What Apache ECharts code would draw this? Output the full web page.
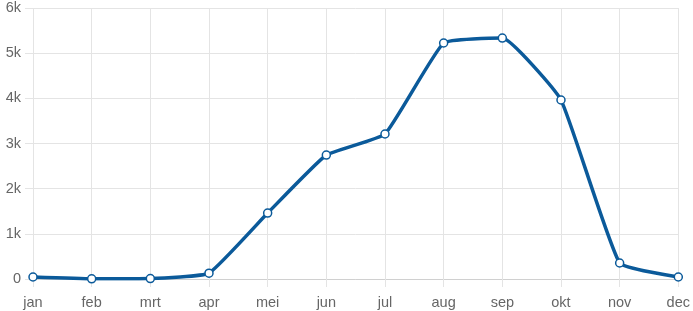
<!DOCTYPE html>
<html>
<head>
<meta charset="utf-8">
<script src="https://cdn.jsdelivr.net/npm/echarts@6/dist/echarts.min.js"></script>
<style>html,body{margin:0;padding:0;background:#fff}#c{width:693px;height:311px}</style>
</head>
<body>
<div id="c"></div>
<script>
const categories = ['jan','feb','mrt','apr','mei','jun','jul','aug','sep','okt','nov','dec'];
const values = [44, 5, 10, 130, 1460, 2745, 3210, 5225, 5335, 3963, 354, 44];
const yMin = 0, yMax = 6000, yStep = 1000;

const chart = echarts.init(document.getElementById('c'), null, {renderer: 'canvas'});
const gridColor = '#e4e4e4';
const font = 'Liberation Sans, Arial, sans-serif';
chart.setOption({
  animation: false,
  grid: {left: 33, right: 13, top: 8, bottom: 32, containLabel: false},
  xAxis: {
    type: 'category', data: categories, boundaryGap: false,
    axisLine: {show: true, lineStyle: {color: '#d0d0d0', width: 1}},
    axisTick: {show: true, alignWithLabel: true, length: 8, lineStyle: {color: gridColor}},
    splitLine: {show: true, lineStyle: {color: gridColor, width: 1}},
    axisLabel: {color: '#666', fontSize: 14.5, fontFamily: font, margin: 16, interval: 0, hideOverlap: false}
  },
  yAxis: {
    type: 'value', min: yMin, max: yMax, interval: yStep,
    axisLine: {show: false},
    axisTick: {show: true, length: 8, lineStyle: {color: gridColor}},
    splitLine: {show: true, lineStyle: {color: gridColor, width: 1}},
    axisLabel: {color: '#666', fontSize: 14.5, fontFamily: font, margin: 12,
      formatter: v => v === 0 ? '0' : (v / 1000) + 'k'}
  },
  series: [{
    type: 'line', data: values, smooth: 0.12,
    lineStyle: {color: '#0b5a9a', width: 3.5},
    symbol: 'circle', symbolSize: 8,
    itemStyle: {color: '#ffffff', borderColor: '#0b5a9a', borderWidth: 1.5}
  }]
});
</script>
</body>
</html>
